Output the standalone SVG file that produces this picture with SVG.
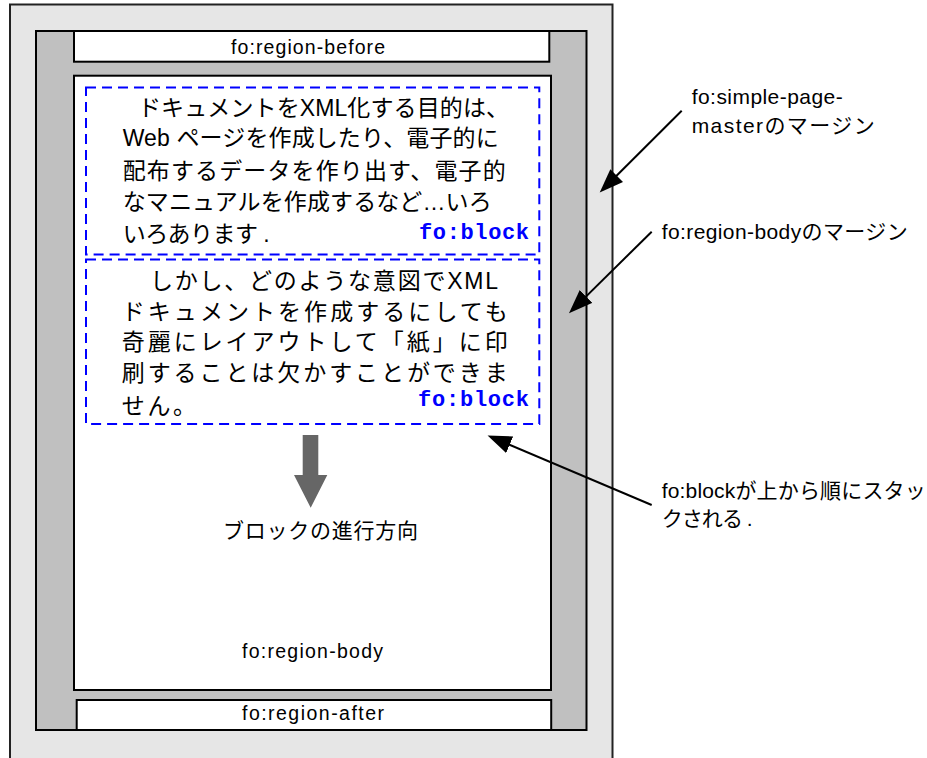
<svg xmlns="http://www.w3.org/2000/svg" width="927" height="758" viewBox="0 0 927 758">
<style>
.bd{stroke:#000;stroke-width:2}
.t{font-family:"Liberation Sans","Noto Sans CJK JP",sans-serif;fill:#000}
.j{font-family:"Liberation Sans","Noto Sans CJK JP",sans-serif;font-size:23px;fill:#000}
.b{font-family:"Liberation Mono","DejaVu Sans Mono",monospace;font-weight:bold;font-size:22px;fill:#0000ff}
.blk{fill:none;stroke:#0000ff;stroke-width:2;stroke-dasharray:10,6}
.con{stroke:#000;stroke-width:2;fill:none;marker-end:url(#ah)}
</style>
<defs>
<marker id="ah" markerUnits="userSpaceOnUse" markerWidth="26" markerHeight="20" refX="13" refY="9" orient="auto" viewBox="0 0 26 20">
<path d="M0,0 L24,9 L0,18 z" fill="#000"/>
</marker>
</defs>
<g id="page">
<rect x="10" y="4.5" width="602.5" height="770" fill="#e6e6e6" stroke="#222" stroke-width="2"/>
</g>
<g id="page-margin">
<rect x="36" y="31" width="550.5" height="699" fill="#c0c0c0" class="bd"/>
</g>
<g id="region-before">
<rect x="74" y="31" width="475.3" height="30.7" fill="#fff" class="bd"/>
<text class="t" x="231" y="53.5" font-size="19.5" textLength="154" lengthAdjust="spacing">fo:region-before</text>
</g>
<g id="region-body">
<rect x="74" y="75.7" width="477" height="614.3" fill="#fff" class="bd"/>
<text class="t" x="242" y="657.5" font-size="19.5" textLength="141" lengthAdjust="spacing">fo:region-body</text>
</g>
<g id="region-after">
<rect x="76.7" y="700" width="474.5" height="30" fill="#fff" class="bd"/>
<text class="t" x="242" y="720" font-size="19.5" textLength="142" lengthAdjust="spacing">fo:region-after</text>
</g>
<g id="block1">
<rect class="blk" x="86" y="87.5" width="453.3" height="167"/>
<text class="j" x="138" y="115.5" textLength="371" lengthAdjust="spacing">ドキュメントをXML化する目的は、</text>
<text class="j" x="122.7" y="145.5" textLength="376" lengthAdjust="spacing">Web ページを作成したり、電子的に</text>
<text class="j" x="122.7" y="179" textLength="383" lengthAdjust="spacing">配布するデータを作り出す、電子的</text>
<text class="j" x="122.7" y="210" textLength="369" lengthAdjust="spacing">なマニュアルを作成するなど…いろ</text>
<text class="j" x="122.7" y="242" textLength="147" lengthAdjust="spacing">いろあります .</text>
<text class="b" x="419" y="239" textLength="110" lengthAdjust="spacing">fo:block</text>
</g>
<g id="block2">
<rect class="blk" x="86" y="259.5" width="453.3" height="164.5"/>
<text class="j" x="150" y="288.5" textLength="348" lengthAdjust="spacing">しかし、どのような意図でXML</text>
<text class="j" x="121.7" y="320" textLength="386" lengthAdjust="spacing">ドキュメントを作成するにしても</text>
<text class="j" x="121.7" y="350" textLength="386" lengthAdjust="spacing">奇麗にレイアウトして「紙」に印</text>
<text class="j" x="121.7" y="381" textLength="386" lengthAdjust="spacing">刷することは欠かすことができま</text>
<text class="j" x="121.7" y="413.5" letter-spacing="2.7">せん。</text>
<text class="b" x="418" y="406" textLength="111" lengthAdjust="spacing">fo:block</text>
</g>
<g id="flow-direction">
<polygon points="302.7,435 318.3,435 318.3,475 327.3,475 310.7,507.7 294,475 302.7,475" fill="#666"/>
<text class="t" x="223" y="537.5" font-size="21" textLength="195" lengthAdjust="spacing">ブロックの進行方向</text>
</g>
<g id="label-page-margin">
<text class="t" x="691.7" y="104" font-size="21" textLength="151" lengthAdjust="spacing">fo:simple-page-</text>
<text class="t" x="691.7" y="133.3" font-size="21" textLength="183" lengthAdjust="spacing">masterのマージン</text>
</g>
<g id="label-body-margin">
<text class="t" x="661.7" y="239.3" font-size="21" textLength="246" lengthAdjust="spacing">fo:region-bodyのマージン</text>
</g>
<g id="label-stack">
<text class="t" x="661.7" y="497.5" font-size="21" textLength="264" lengthAdjust="spacing">fo:blockが上から順にスタッ</text>
<text class="t" x="661.7" y="526" font-size="21" textLength="91" lengthAdjust="spacing">クされる .</text>
</g>
<g id="connectors">
<line class="con" x1="681.7" y1="110.7" x2="607.5" y2="184.8"/>
<line class="con" x1="651.7" y1="231.7" x2="576.8" y2="305.6"/>
<line class="con" x1="651.7" y1="505" x2="497.7" y2="439.7"/>
</g>
</svg>
